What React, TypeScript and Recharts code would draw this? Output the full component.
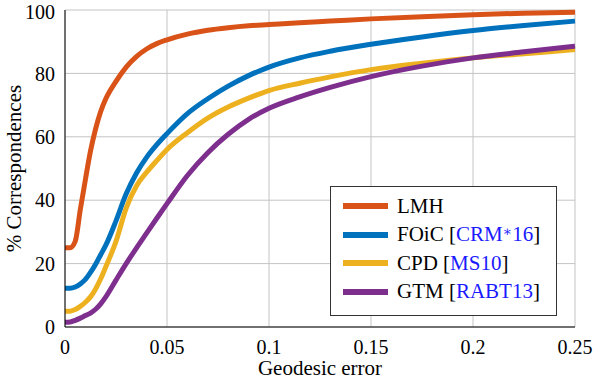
import React from "react";
import {
  LineChart,
  Line,
  XAxis,
  YAxis,
  CartesianGrid,
} from "recharts";

// geodesic error samples (x)
const errors = [
  0, 0.0025, 0.005, 0.0075, 0.01, 0.0125, 0.015, 0.0175, 0.02, 0.025, 0.03,
  0.035, 0.04, 0.045, 0.05, 0.06, 0.07, 0.08, 0.09, 0.1, 0.115, 0.13, 0.15,
  0.175, 0.2, 0.225, 0.25,
];

const lmh = [
  25, 25, 27, 37, 46.5, 55.5, 62.5, 68, 72, 77.5, 82, 85.3, 87.7, 89.4, 90.6,
  92.4, 93.6, 94.4, 95.0, 95.4, 96.0, 96.5, 97.2, 97.9, 98.5, 99.0, 99.3,
];
const foic = [
  12.2, 12.2, 12.6, 13.6, 15, 17.2, 19.8, 22.8, 25.8, 33.5, 42, 48.5, 53.5,
  57.5, 61, 67.3, 72.0, 76.0, 79.3, 82.0, 84.9, 87.0, 89.2, 91.5, 93.5, 95.1,
  96.5,
];
const cpd = [
  5, 5, 5.5, 6.5, 7.8, 9.5, 12, 15.2, 19, 27, 37.5, 44.5, 48.8, 52.5, 56,
  61.3, 65.9, 69.4, 72.2, 74.6, 76.9, 78.9, 81.2, 83.2, 84.9, 86.2, 87.5,
];
const gtm = [
  1.5, 1.6, 2.1, 2.8, 3.6, 4.4, 5.6, 7.3, 9.5, 14.8, 20, 24.9, 29.6, 34.3,
  38.9, 47.8, 55, 60.8, 65.5, 69, 72.6, 75.6, 79.0, 82.3, 84.9, 86.8, 88.6,
];

const xTicks = [0, 0.05, 0.1, 0.15, 0.2, 0.25];
const yTicks = [0, 20, 40, 60, 80, 100];

const seriesKeys = ["lmh", "foic", "cpd", "gtm"];
const seriesNames = ["LMH", "FOiC", "CPD", "GTM"];
const seriesCites = ["", "CRM*16", "MS10", "RABT13"];
const seriesColors = ["#D95319", "#0072BD", "#EDB120", "#7E2F8E"];

const data = errors.map((e, i) => ({
  err: e,
  lmh: lmh[i],
  foic: foic[i],
  cpd: cpd[i],
  gtm: gtm[i],
}));

const FONT = "'Liberation Serif', 'DejaVu Serif', serif";

function Cite({ text }: { text: string }) {
  if (text.includes("*")) {
    const [a, b] = text.split("*");
    return (
      <span style={{ color: "#1a1aff" }}>
        {a}
        <span style={{ fontSize: 14, verticalAlign: 5 }}>∗</span>
        {b}
      </span>
    );
  }
  return <span style={{ color: "#1a1aff" }}>{text}</span>;
}

export default function App() {
  return (
    <div
      style={{
        position: "absolute",
        left: 0,
        top: 0,
        width: 593,
        height: 385,
        background: "#fff",
        fontFamily: FONT,
      }}
    >
      <LineChart
        width={593}
        height={385}
        data={data}
        margin={{ top: 10, right: 18, bottom: 0, left: 0 }}
      >
        <CartesianGrid stroke="#c4c4c4" strokeWidth={1} />
        <XAxis
          dataKey="err"
          type="number"
          domain={[0, 0.25]}
          ticks={xTicks}
          tickFormatter={(v: number) => String(v)}
          height={58}
          axisLine={{ stroke: "#000", strokeWidth: 1 }}
          tickLine={false}
          tickSize={0}
          tickMargin={13}
          tick={{ fontSize: 20, fill: "#000", fontFamily: FONT }}
          label={{
            content: (p: any) => {
              const vb = p.viewBox;
              return (
                <text
                  x={vb.x + vb.width / 2}
                  y={vb.y + 48}
                  textAnchor="middle"
                  fontSize={21}
                  fontFamily={FONT}
                  fill="#000"
                >
                  Geodesic error
                </text>
              );
            },
          }}
        />
        <YAxis
          type="number"
          domain={[0, 100]}
          ticks={yTicks}
          width={65}
          axisLine={{ stroke: "#000", strokeWidth: 1 }}
          tickLine={false}
          tickSize={0}
          tickMargin={10}
          tick={{ fontSize: 20, fill: "#000", fontFamily: FONT }}
          label={{
            content: (p: any) => {
              const vb = p.viewBox;
              const cx = vb.x + 21;
              const cy = vb.y + vb.height / 2;
              return (
                <text
                  x={cx}
                  y={cy}
                  textAnchor="middle"
                  fontSize={21}
                  fontFamily={FONT}
                  fill="#000"
                  transform={`rotate(-90, ${cx}, ${cy})`}
                >
                  % Correspondences
                </text>
              );
            },
          }}
        />
        {seriesKeys.map((k, i) => (
          <Line
            key={k}
            type="monotone"
            dataKey={k}
            stroke={seriesColors[i]}
            strokeWidth={5}
            dot={false}
            isAnimationActive={false}
          />
        ))}
      </LineChart>

      <div
        style={{
          position: "absolute",
          left: 330,
          top: 186,
          width: 225,
          height: 123,
          border: "1px solid #333",
          background: "#fff",
          paddingTop: 5,
          boxSizing: "content-box",
        }}
      >
        {seriesNames.map((n, i) => (
          <div
            key={n}
            style={{
              height: 28.5,
              display: "flex",
              alignItems: "center",
              fontSize: 21,
              color: "#000",
              whiteSpace: "nowrap",
            }}
          >
            <div
              style={{
                marginLeft: 12,
                width: 45,
                height: 6,
                background: seriesColors[i],
                marginRight: 9,
              }}
            />
            <span>
              {n}
              {seriesCites[i] && (
                <>
                  {" ["}
                  <Cite text={seriesCites[i]} />
                  {"]"}
                </>
              )}
            </span>
          </div>
        ))}
      </div>
    </div>
  );
}
